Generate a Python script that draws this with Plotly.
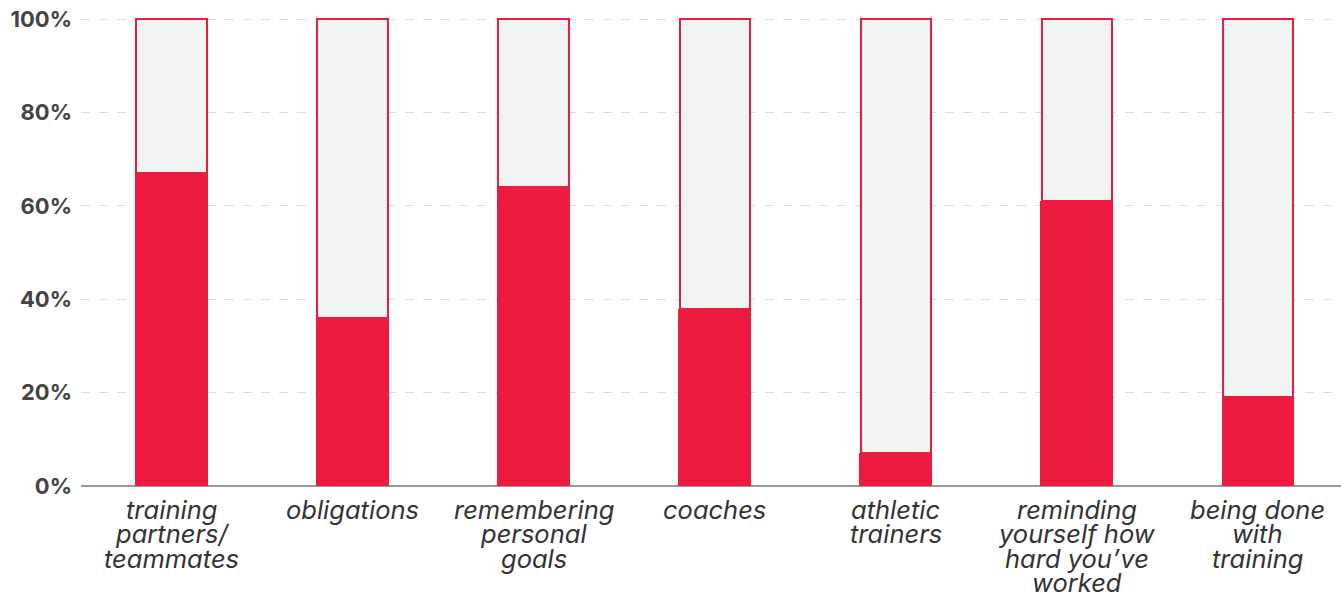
import plotly.graph_objects as go

categories = [
    "training<br>partners/<br>teammates",
    "obligations",
    "remembering<br>personal<br>goals",
    "coaches",
    "athletic<br>trainers",
    "reminding<br>yourself how<br>hard you’ve<br>worked",
    "being done<br>with<br>training",
]
share = [67, 36, 64, 38, 7, 61, 19]
remainder = [100 - v for v in share]
y_ticks = [0, 20, 40, 60, 80, 100]

RED = "#EE1B41"
GREY = "#F2F3F3"

fig = go.Figure()
fig.add_trace(go.Bar(
    x=categories, y=share, width=0.4,
    marker=dict(color=RED, line=dict(width=0)),
    hoverinfo="skip",
))
fig.add_trace(go.Bar(
    x=categories, y=remainder, width=0.4 - 0.012,
    marker=dict(color=GREY, line=dict(color=RED, width=2)),
    hoverinfo="skip",
))

# Category labels, one annotation per line for tight line spacing
LINE_H = 24.5
for cat in categories:
    for i, line in enumerate(cat.split("<br>")):
        fig.add_annotation(
            x=cat, y=0, xref="x", yref="y",
            text=line, showarrow=False,
            yanchor="middle", xanchor="center",
            yshift=-(23 + i * LINE_H),
            font=dict(family="Inter", size=25.5, color="#333333", style="italic"),
        )

fig.update_layout(
    barmode="stack",
    width=1341, height=597,
    margin=dict(l=81, r=0, t=17, b=111, autoexpand=False),
    plot_bgcolor="white", paper_bgcolor="white",
    showlegend=False,
    xaxis=dict(
        range=[-0.5, 6.46], automargin=False,
        showgrid=False, ticks="", showline=False, showticklabels=False,
    ),
    yaxis=dict(
        range=[0, 100.43], automargin=False,
        tickvals=y_ticks, ticktext=[f"{v}%" for v in y_ticks],
        showgrid=True, gridcolor="#DDDDDD", griddash="dash", gridwidth=1,
        zeroline=True, zerolinecolor="#999999", zerolinewidth=2,
        tickfont=dict(family="Inter", size=22, color="#444444", weight=700),
        ticks="", ticklabelstandoff=8,
    ),
)

fig.write_html("out.html")
